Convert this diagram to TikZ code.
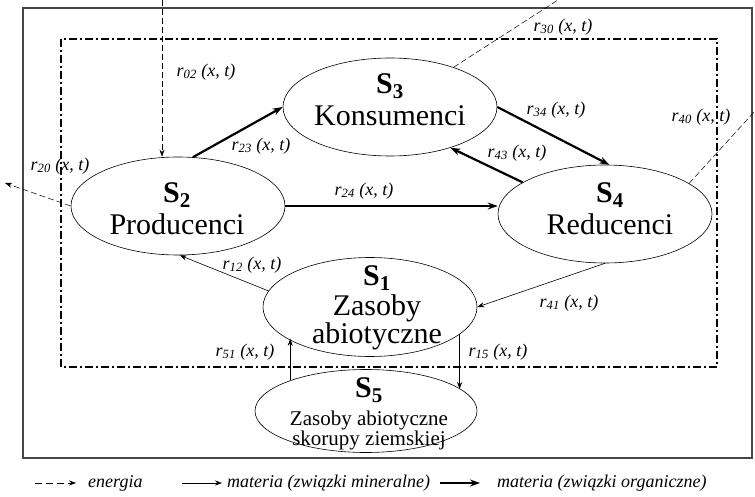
\documentclass[tikz,border=0pt]{standalone}
\usepackage{fontspec}
\setmainfont{Liberation Serif}
\usetikzlibrary{shapes.geometric, arrows.meta}
\definecolor{framec}{RGB}{70,70,70}
\newcommand{\rxt}[1]{r\textsubscript{#1} (x, t)}

\begin{document}
\begin{tikzpicture}[x=1pt, y=-1pt,
  elli/.style={draw, ellipse, line width=0.6pt, minimum width=214pt, minimum height=98pt, inner sep=0pt},
  sname/.style={font=\fontsize{30}{32}\selectfont, align=center, anchor=north, inner sep=0pt},
  rate/.style={font=\fontsize{18}{20}\selectfont\itshape, inner sep=0pt},
  legend/.style={font=\fontsize{18}{20}\selectfont\itshape, inner sep=0pt, anchor=west},
  energy/.style={line width=0.5pt, dash pattern=on 6pt off 3pt, -{Stealth[length=7pt, width=5pt]}},
  mineral/.style={line width=0.6pt, -{Stealth[length=7pt, width=5pt]}},
  organic/.style={line width=2.2pt, -{Stealth[length=10pt, width=7pt]}}]

% page 755 x 497, y grows downwards
\useasboundingbox (0,0) rectangle (755,497);

%% ── frames ───────────────────────────────────────────────────────
\draw[framec, line width=1.3pt] (23,8) rectangle (752,458);
\draw[line width=1.7pt, dash pattern=on 8pt off 3pt on 2pt off 3pt] (61,39) rectangle (717,367);

%% ── subsystems ───────────────────────────────────────────────────
\node[elli] (s3) at (390,107) {};
\node[elli] (s2) at (178,206) {};
\node[elli] (s4) at (605,214) {};
\node[elli, minimum height=99pt] (s1) at (370,307) {};
\node[elli, minimum width=222pt, minimum height=83pt] (s5) at (366,411) {};

\node[sname] (t3) at (390,73) {\textbf{S\textsubscript{3}}\\Konsumenci};
\node[sname] (t2) at (177,182) {\textbf{S\textsubscript{2}}\\Producenci};
\node[sname] (t4) at (610,182) {\textbf{S\textsubscript{4}}\\Reducenci};
\node[sname, font=\fontsize{30}{28}\selectfont] (t1) at (377,265) {\textbf{S\textsubscript{1}}\\[2pt]Zasoby\\abiotyczne};
\node[sname, font=\fontsize{21}{19}\selectfont] (t5) at (369,377)
  {{\fontsize{30}{30}\selectfont\textbf{S\textsubscript{5}}}\\[7pt]Zasoby abiotyczne\\skorupy ziemskiej};

%% ── energy flows ─────────────────────────────────────────────────
\coordinate (src02) at (162,0);
\coordinate (out20) at (5,183);
\coordinate (out30) at (558,0);
\coordinate (out40) at (755,111);
\draw[energy] (src02) -- (src02 |- s2.north);
\draw[energy] (s2.west) -- (out20);
\draw[energy, -] (s3.32.8) -- (out30);
\draw[energy, -] (s4.20.7) -- (out40);

%% ── organic matter ───────────────────────────────────────────────
\draw[organic] (s2.73) -- (s3.west);
\draw[organic] (s2.east) -- (s2.east -| s4.west);
\draw[organic] (s3.east) -- (s4.85);
\draw[organic] (s4.159) -- (s3.326.5);

%% ── mineral matter ───────────────────────────────────────────────
\draw[mineral] (s1.171.6) -- (s2.272);
\draw[mineral] (s4.south) -- (s1.east);
\draw[mineral] (s5.158.8) -- (s5.158.8 |- s1.201.8);
\draw[mineral] (s1.343.4) -- (s1.343.4 |- s5.13.1);

%% ── rates ────────────────────────────────────────────────────────
\node[rate] (r02) at (206,72)  {\rxt{02}};
\node[rate] (r20) at (60,166)  {\rxt{20}};
\node[rate] (r23) at (261,146) {\rxt{23}};
\node[rate] (r24) at (364,191) {\rxt{24}};
\node[rate] (r30) at (563,27)  {\rxt{30}};
\node[rate] (r34) at (556,110) {\rxt{34}};
\node[rate] (r43) at (517,153) {\rxt{43}};
\node[rate] (r40) at (701,117) {\rxt{40}};
\node[rate] (r12) at (252,265) {\rxt{12}};
\node[rate] (r41) at (569,303) {\rxt{41}};
\node[rate] (r51) at (245,352) {\rxt{51}};
\node[rate] (r15) at (498,352) {\rxt{15}};

%% ── legend ───────────────────────────────────────────────────────
\coordinate (le0) at (35,483);  \coordinate (le1) at (76,483);
\coordinate (lm0) at (182,483); \coordinate (lm1) at (222,483);
\coordinate (lo0) at (440,483); \coordinate (lo1) at (480,483);
\draw[energy, dash pattern=on 7pt off 4pt] (le0) -- (le1);
\draw[mineral] (lm0) -- (lm1);
\draw[organic] (lo0) -- (lo1);
\node[legend] (lene) at (88,483)  {energia};
\node[legend] (lmin) at (227,483) {materia (związki mineralne)};
\node[legend] (lorg) at (497,483) {materia (związki organiczne)};

\end{tikzpicture}
\end{document}
